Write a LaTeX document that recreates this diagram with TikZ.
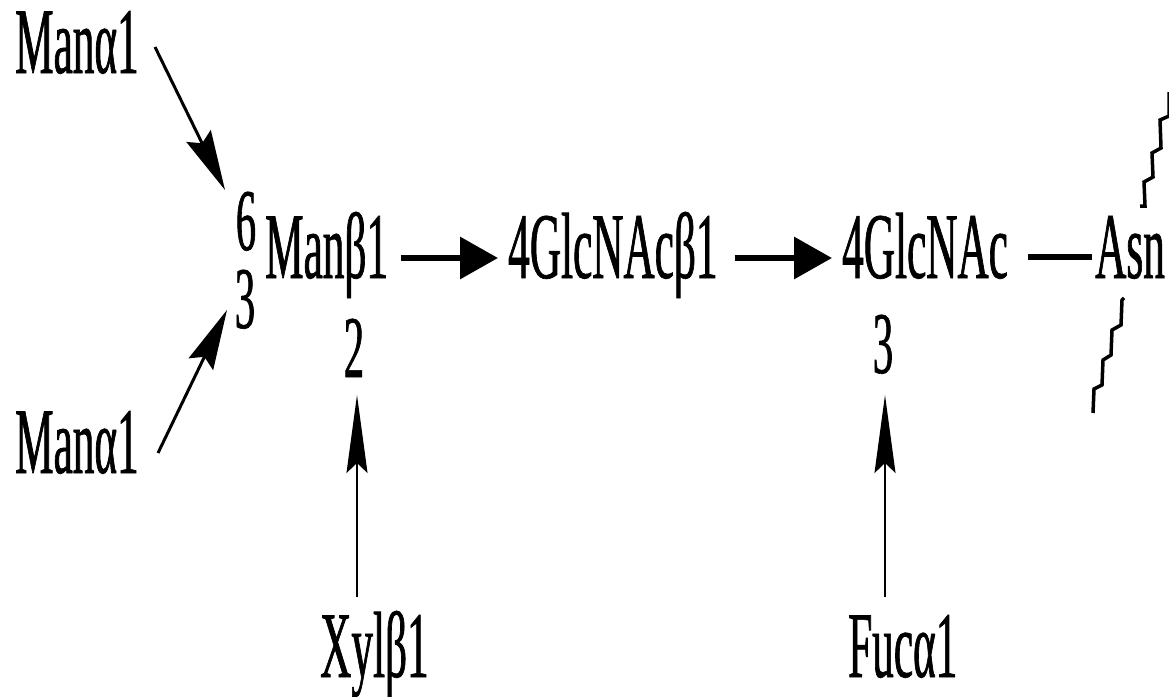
\documentclass[tikz,border=0pt]{standalone}
\usepackage{fontspec}
\setmainfont{Liberation Serif}[FakeStretch=0.46,FakeBold=0.7]
\usetikzlibrary{arrows.meta}
\tikzset{
  sugar/.style={inner sep=0pt, font=\fontsize{94}{96}\selectfont},
  posnum/.style={inner sep=0pt, font=\fontsize{88}{90}\selectfont},
  mainlink/.style={line width=6.5pt, -{Triangle[length=38pt,width=41pt]}},
  sidelink/.style={line width=3pt, -{Stealth[length=60pt,width=27pt,inset=8pt]}},
  branchlink/.style={line width=2pt, -{Stealth[length=78pt,width=21pt,inset=10pt]}},
  zig/.style={line width=3.5pt, line join=miter, line cap=butt},
}
\begin{document}
\begin{tikzpicture}[x=1pt,y=-1pt]
\useasboundingbox (0,0) rectangle (1169,696);
% residues
\node[sugar, anchor=base west] (m6) at (15,73) {Manα1};
\node[sugar, anchor=base west] (m3) at (15,473) {Manα1};
\node[posnum, anchor=base] (p6) at (246,250) {6};
\node[posnum, anchor=base] (p3) at (245,328) {3};
\node[sugar, anchor=base west] (manb) at (265,278) {Manβ1};
\node[sugar, anchor=base west] (gn1) at (508,278) {4GlcNAcβ1};
\node[sugar, anchor=base west] (gn2) at (842,278) {4GlcNAc};
\node[sugar, anchor=base west] (asn) at (1095,278) {Asn};
\node[posnum, anchor=base] (p2) at (354,377) {2};
\node[posnum, anchor=base] (p3b) at (883,373) {3};
\node[sugar, anchor=base west] (xyl) at (320,677) {Xylβ1};
\node[sugar, anchor=base west] (fuc) at (848,677) {Fucα1};
% arm linkages onto the core mannose
\coordinate (a6s) at (155,47);
\coordinate (a6e) at (225,190);
\coordinate (a3s) at (158,453);
\coordinate (a3e) at (227,310);
\draw[sidelink] (a6s) -- (a6e);
\draw[sidelink] (a3s) -- (a3e);
% core chain
\draw[mainlink] ([xshift=13pt]manb.east |- 0,258) -- ([xshift=-10pt]gn1.west |- 0,258);
\draw[mainlink] ([xshift=17pt]gn1.east |- 0,258) -- ([xshift=-10pt]gn2.west |- 0,258);
\draw[line width=6.5pt] ([xshift=20pt]gn2.east |- 0,257) -- ([xshift=-3pt]asn.west |- 0,257);
% branch substituents
\coordinate (xt) at (357,597);
\coordinate (xh) at (357,395);
\coordinate (ft) at (885,597);
\coordinate (fh) at (885,395);
\draw[branchlink] (xt) -- (xh);
\draw[branchlink] (ft) -- (fh);
% peptide chain continuation
\draw[zig] (1140,206) -- (1145,206) -- (1144,182) -- (1153,177) -- (1152,153) -- (1161,148) -- (1160,120) -- (1169,116) -- (1169,92);
\draw[zig] (1124,298) -- (1122,300) -- (1121,325) -- (1112,330) -- (1111,355) -- (1103,360) -- (1102,385) -- (1094,389) -- (1093,413);
\end{tikzpicture}
\end{document}
